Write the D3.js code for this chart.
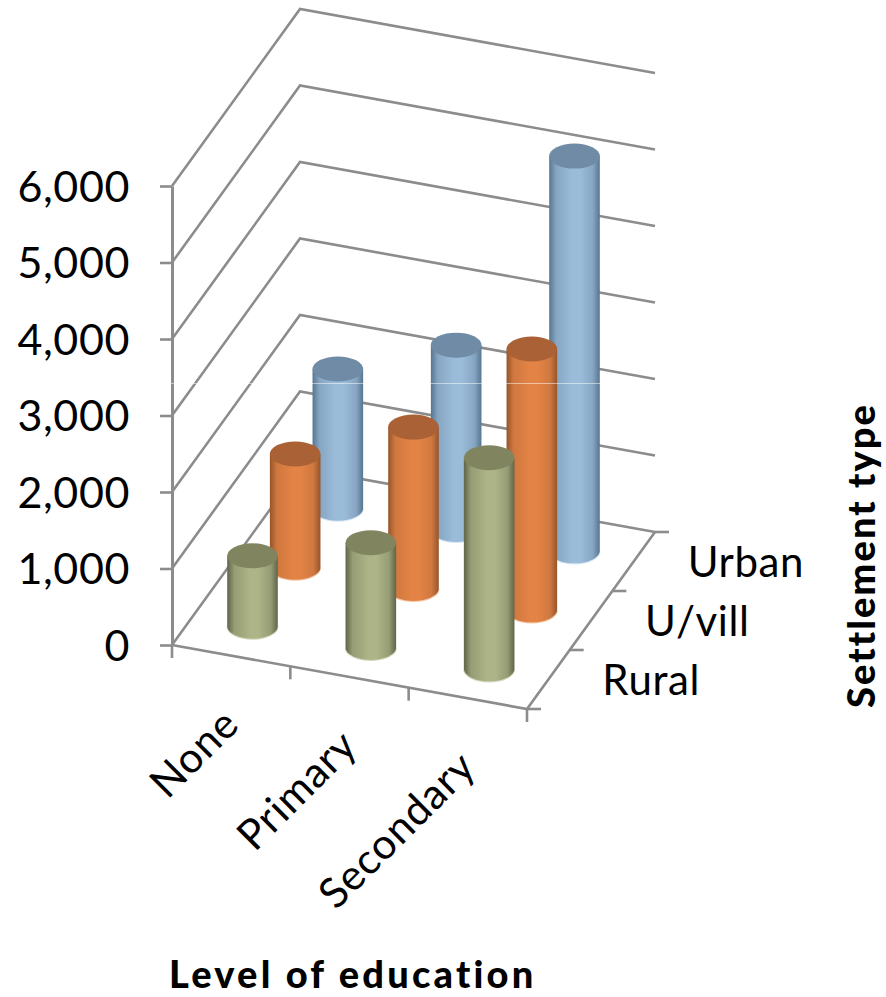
<!DOCTYPE html>
<html>
<head>
<meta charset="utf-8">
<script src="https://cdn.jsdelivr.net/npm/d3@7/dist/d3.min.js"></script>
<style>
  html, body { margin: 0; padding: 0; background: #fff; }
  svg { display: block; }
  text { font-family: Lato, "Open Sans", sans-serif; fill: #000; }
</style>
</head>
<body>
<svg id="chart" width="886" height="997"></svg>
<script>
// Enrolment counts by level of education and settlement type
const education = ["None", "Primary", "Secondary"];
const settlement = ["Rural", "U/vill", "Urban"];
const ruralValues = [920, 1370, 2760];
const uvillValues = [1480, 2110, 3410];
const urbanValues = [1820, 2410, 5160];
const valueTicks = [0, 1000, 2000, 3000, 4000, 5000, 6000];
const seriesValues = [ruralValues, uvillValues, urbanValues];

const palette = {
  Rural: { edge: "#5f6548", mid: "#969c74", light: "#adb487", top: "#81855f", rim: "#d5d8bf" },
  "U/vill": { edge: "#96552b", mid: "#cf7840", light: "#e38345", top: "#aa6135", rim: "#f6c6a4" },
  Urban: { edge: "#587690", mid: "#86a6c3", light: "#9bbcd9", top: "#6f8ba5", rim: "#d6e6f4" }
};

const svg = d3.select("#chart");
const GRID = "#8c8c8c";

// Oblique floor: origin plus one vector along each category direction
const origin = [172, 645];
const alongEducation = [355, 64];
const alongSettlement = [128, -177];

const uScale = d3.scaleBand().domain(education).range([0, 1]);
const vScale = d3.scaleBand().domain(settlement).range([0, 1]);
const yScale = d3.scaleLinear().domain([0, 6000]).range([645, 186]);
const rise = v => yScale(v) - yScale(0);

const project = (u, v, value = 0) => [
  origin[0] + u * alongEducation[0] + v * alongSettlement[0],
  origin[1] + u * alongEducation[1] + v * alongSettlement[1] + rise(value)
];

const uMid = d => uScale(d) + uScale.bandwidth() / 2;
const vMid = d => vScale(d) + vScale.bandwidth() / 2;

// Cylinder shading
const defs = svg.append("defs");
settlement.forEach((s, i) => {
  const c = palette[s];
  const g = defs.append("linearGradient").attr("id", "body" + i)
    .attr("x1", 0).attr("x2", 1).attr("y1", 0).attr("y2", 0);
  [[0, c.edge], [0.14, c.mid], [0.45, c.light], [0.62, c.light], [0.86, c.mid], [1, c.edge]]
    .forEach(([o, col]) => g.append("stop").attr("offset", o).attr("stop-color", col));
});

// Walls and floor grid
const grid = svg.append("g").attr("fill", "none").attr("stroke", GRID).attr("stroke-width", 2.6);
const line = d3.line();
valueTicks.forEach(t => {
  grid.append("path").attr("d", line([project(0, 0, t), project(0, 1, t), project(1, 1, t)]));
});
grid.append("path").attr("d", line([project(0, 0), project(1, 0), project(1, 1)]));

// Tick marks on the two floor edges
uScale.domain().concat("end").forEach((d, i) => {
  const p = project(i / education.length, 0);
  grid.append("line").attr("x1", p[0]).attr("x2", p[0]).attr("y1", p[1]).attr("y2", p[1] + 13);
});
vScale.domain().concat("end").forEach((d, i) => {
  const p = project(1, i / settlement.length);
  grid.append("line").attr("x1", p[0]).attr("x2", p[0] + 14).attr("y1", p[1]).attr("y2", p[1]);
});

// Value axis
const axis = svg.append("g").attr("transform", "translate(172,0)")
  .call(d3.axisLeft(yScale).tickValues(valueTicks).tickFormat(d3.format(","))
    .tickSize(12).tickSizeOuter(0).tickPadding(30));
axis.select(".domain").attr("stroke", GRID).attr("stroke-width", 3);
axis.selectAll(".tick line").attr("stroke", GRID).attr("stroke-width", 2.6);
axis.selectAll(".tick text").attr("font-size", 43).attr("dy", "0.36em")
  .attr("letter-spacing", 0.6)
  .style("font-family", "Lato, sans-serif");

// Cylinders, painted from the back row forward
const RX = 25.3, RY = 12.5;
const rows = d3.range(settlement.length).reverse();
rows.forEach(si => {
  const s = settlement[si];
  const c = palette[s];
  const row = svg.append("g").selectAll("g")
    .data(education.map((e, ei) => ({ e, value: seriesValues[si][ei] })))
    .join("g");
  row.each(function (d) {
    const base = project(uMid(d.e), vMid(s));
    const top = project(uMid(d.e), vMid(s), d.value);
    const g = d3.select(this);
    g.append("path")
      .attr("d", `M${base[0] - RX},${base[1]} A${RX},${RY} 0 0 0 ${base[0] + RX},${base[1]}`)
      .attr("fill", "none").attr("stroke", c.rim).attr("stroke-width", 1.4)
      .attr("transform", "translate(0,0.4)");
    g.append("path")
      .attr("d", `M${top[0] - RX},${top[1]} L${base[0] - RX},${base[1]} ` +
        `A${RX},${RY} 0 0 0 ${base[0] + RX},${base[1]} L${top[0] + RX},${top[1]} Z`)
      .attr("fill", `url(#body${si})`);
    g.append("ellipse")
      .attr("cx", top[0]).attr("cy", top[1]).attr("rx", RX).attr("ry", RY)
      .attr("fill", c.top);
  });
});

// Thin pale hairline running across the plot
svg.append("line").attr("x1", 160).attr("x2", 660).attr("y1", 383.5).attr("y2", 383.5)
  .attr("stroke", "#fff").attr("stroke-opacity", 0.5).attr("stroke-width", 1);

// Category labels
svg.append("g").selectAll("text").data(education).join("text")
  .attr("font-size", 42).attr("text-anchor", "end").attr("letter-spacing", 0.8)
  .attr("transform", d => {
    const p = project(uMid(d), 0);
    return `translate(${p[0] + 10},${p[1] + 71}) rotate(-45)`;
  })
  .text(d => d);

svg.append("g").selectAll("text").data(settlement).join("text")
  .attr("font-size", 42).attr("letter-spacing", 0.6)
  .attr("x", d => project(1, vMid(d))[0] + 54)
  .attr("y", d => project(1, vMid(d))[1] + 15)
  .text(d => d);

// Axis titles
svg.append("text").attr("x", 169).attr("y", 988)
  .attr("font-size", 38).attr("font-weight", 900).attr("letter-spacing", 3.2)
  .text("Level of education");
svg.append("text").attr("transform", "translate(875,708) rotate(-90)")
  .attr("font-size", 38).attr("font-weight", 900).attr("letter-spacing", 2.1)
  .text("Settlement type");
</script>
</body>
</html>
